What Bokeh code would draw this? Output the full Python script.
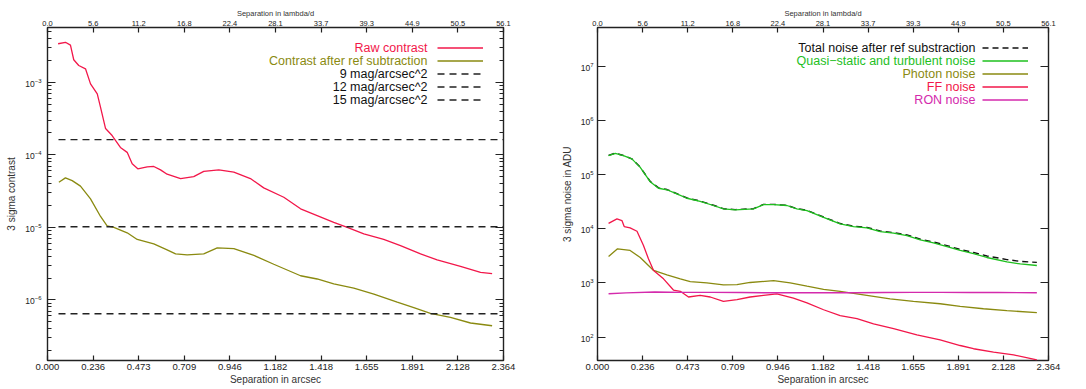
from bokeh.plotting import figure
from bokeh.models import (Range1d, LinearAxis, LogAxis, FixedTicker, Legend, LegendItem,
                          Label, PrintfTickFormatter, CustomJSTickFormatter)
from bokeh.layouts import row
from bokeh.embed import file_html
from bokeh.resources import INLINE

FONT = "Liberation Sans"

# ---------------- data: left panel (contrast) ----------------
raw_x = [0.055, 0.093, 0.119, 0.136, 0.162, 0.197, 0.223, 0.258, 0.275, 0.301, 0.335, 0.378,
         0.413, 0.439, 0.468, 0.517, 0.551, 0.586, 0.620, 0.690, 0.758, 0.810, 0.888, 0.966,
         1.052, 1.121, 1.225, 1.312, 1.398, 1.484, 1.554, 1.640, 1.743, 1.830, 1.934, 2.020,
         2.141, 2.245, 2.305]
raw_contrast = [3.39e-3, 3.55e-3, 3.24e-3, 2.04e-3, 1.70e-3, 1.53e-3, 9.5e-4, 6.9e-4, 4.5e-4,
                2.3e-4, 1.84e-4, 1.26e-4, 1.08e-4, 7.5e-5, 6.4e-5, 6.8e-5, 6.9e-5, 6.2e-5,
                5.4e-5, 4.7e-5, 5.0e-5, 5.9e-5, 6.2e-5, 5.75e-5, 4.7e-5, 3.5e-5, 2.6e-5,
                1.8e-5, 1.45e-5, 1.17e-5, 1.0e-5, 8.1e-6, 6.8e-6, 5.6e-6, 4.3e-6, 3.55e-6,
                2.9e-6, 2.4e-6, 2.3e-6]

sub_x = [0.059, 0.093, 0.128, 0.171, 0.223, 0.275, 0.309, 0.344, 0.413, 0.465, 0.551, 0.620,
         0.664, 0.724, 0.810, 0.880, 0.966, 1.070, 1.173, 1.312, 1.398, 1.484, 1.588, 1.692,
         1.813, 1.899, 1.985, 2.089, 2.193, 2.305]
sub_contrast = [4.17e-5, 4.8e-5, 4.4e-5, 3.7e-5, 2.47e-5, 1.41e-5, 1.05e-5, 1.0e-5, 8.4e-6,
                6.8e-6, 5.9e-6, 4.9e-6, 4.3e-6, 4.17e-6, 4.3e-6, 5.2e-6, 5.1e-6, 4.1e-6,
                3.1e-6, 2.15e-6, 1.94e-6, 1.66e-6, 1.45e-6, 1.2e-6, 9.3e-7, 7.8e-7, 6.5e-7,
                5.75e-7, 4.8e-7, 4.4e-7]

mag_labels = ["9 mag/arcsec^2", "12 mag/arcsec^2", "15 mag/arcsec^2"]
mag_levels = [1.62e-4, 1.02e-5, 6.45e-7]
mag_x = [0.057, 2.364]

# ---------------- data: right panel (noise in ADU) ----------------
qs_x = [0.058, 0.093, 0.136, 0.180, 0.224, 0.276, 0.320, 0.364, 0.416, 0.469, 0.538, 0.608,
        0.660, 0.722, 0.818, 0.870, 0.923, 0.993, 1.045, 1.098, 1.185, 1.272, 1.342, 1.412,
        1.482, 1.552, 1.622, 1.692, 1.761, 1.832, 1.901, 1.971, 2.041, 2.146, 2.216, 2.303]
qs_noise = [2.24e5, 2.47e5, 2.24e5, 1.95e5, 1.36e5, 7.4e4, 5.6e4, 5.25e4, 4.4e4, 3.66e4,
            3.22e4, 2.69e4, 2.33e4, 2.24e4, 2.33e4, 2.8e4, 2.8e4, 2.69e4, 2.33e4, 2.17e4,
            1.63e4, 1.23e4, 1.1e4, 1.04e4, 8.9e3, 8.3e3, 7.5e3, 6.25e3, 5.5e3, 4.7e3, 4.0e3,
            3.47e3, 2.95e3, 2.45e3, 2.24e3, 2.1e3]
total_noise = [2.26e5, 2.49e5, 2.25e5, 1.96e5, 1.37e5, 7.5e4, 5.7e4, 5.3e4, 4.45e4, 3.7e4,
               3.25e4, 2.72e4, 2.35e4, 2.26e4, 2.35e4, 2.82e4, 2.82e4, 2.71e4, 2.35e4, 2.19e4,
               1.65e4, 1.25e4, 1.12e4, 1.06e4, 9.1e3, 8.5e3, 7.7e3, 6.45e3, 5.7e3, 4.9e3,
               4.15e3, 3.65e3, 3.15e3, 2.7e3, 2.5e3, 2.4e3]

ph_x = [0.058, 0.105, 0.171, 0.224, 0.294, 0.364, 0.434, 0.486, 0.573, 0.660, 0.731, 0.800,
        0.923, 1.010, 1.098, 1.185, 1.272, 1.412, 1.534, 1.656, 1.796, 1.901, 2.023, 2.146,
        2.303]
photon_noise = [3.08e3, 4.27e3, 3.98e3, 2.95e3, 1.7e3, 1.41e3, 1.19e3, 1.06e3, 1.0e3, 9.2e2,
                9.3e2, 1.02e3, 1.1e3, 1.0e3, 8.7e2, 7.6e2, 7.0e2, 5.9e2, 5.1e2, 4.55e2,
                4.13e2, 3.68e2, 3.34e2, 3.09e2, 2.82e2]

ff_x = [0.058, 0.102, 0.128, 0.140, 0.171, 0.207, 0.241, 0.267, 0.294, 0.346, 0.398, 0.434,
        0.477, 0.538, 0.591, 0.660, 0.731, 0.800, 0.870, 0.940, 1.027, 1.098, 1.185, 1.272,
        1.360, 1.447, 1.552, 1.674, 1.796, 1.901, 1.971, 2.076, 2.181, 2.303]
ff_noise = [1.26e4, 1.52e4, 1.42e4, 1.1e4, 1.04e4, 9.0e3, 4.9e3, 2.8e3, 1.7e3, 1.19e3, 7.4e2,
            7.0e2, 5.5e2, 5.9e2, 5.5e2, 4.55e2, 4.9e2, 5.5e2, 5.9e2, 6.3e2, 5.25e2, 4.3e2,
            3.2e2, 2.5e2, 2.2e2, 1.76e2, 1.43e2, 1.1e2, 8.9e1, 7.0e1, 6.1e1, 5.3e1, 4.7e1,
            3.8e1]

ron_x = [0.058, 0.15, 0.30, 0.45, 0.60, 0.75, 0.90, 1.05, 1.20, 1.35, 1.50, 1.65, 1.80, 1.95,
         2.10, 2.303]
ron_noise = [630, 655, 680, 670, 670, 665, 660, 660, 660, 660, 665, 670, 670, 668, 665, 660]

# ---------------- axes ticks ----------------
arcsec_ticks = [0.0, 0.2364, 0.4728, 0.7092, 0.9456, 1.182, 1.4184, 1.6548, 1.8912, 2.1276, 2.364]
lam_ticks = [0.0, 5.612, 11.224, 16.836, 22.448, 28.06, 33.672, 39.284, 44.896, 50.508, 56.12]
left_y_ticks = [1e-6, 1e-5, 1e-4, 1e-3]
right_y_ticks = [1e2, 1e3, 1e4, 1e5, 1e6, 1e7]

RED = "#f2174a"
OLIVE = "#8a8a10"
GREEN = "#1ec01e"
MAGENTA = "#d42aac"
BLACK = "#111111"
AXC = "#222222"

H = 389
TOP = 27
BOTTOM = 29
FRAME_H = H - TOP - BOTTOM


def minor_log(lo_exp, hi_exp):
    out = []
    for e in range(lo_exp, hi_exp + 1):
        for m in range(2, 10):
            out.append(m * 10.0 ** e)
    return out


def make_fig(width, ylo, yhi, bl, br, yticks, minor, ylabel, lab_standoff, ax_standoff):
    p = figure(width=width, height=H, x_range=Range1d(0, 2.364), y_range=Range1d(ylo, yhi),
               y_axis_type="log", output_backend="svg", toolbar_location=None,
               min_border_left=bl, min_border_right=br, min_border_top=TOP,
               min_border_bottom=BOTTOM)
    p.xgrid.visible = False
    p.ygrid.visible = False
    p.outline_line_color = AXC
    p.outline_line_width = 1.4
    p.background_fill_color = "white"
    p.border_fill_color = "white"

    # bottom axis
    xa = p.xaxis[0]
    xa.ticker = FixedTicker(ticks=arcsec_ticks)
    xa.formatter = PrintfTickFormatter(format="%.3f")
    xa.axis_label = "Separation in arcsec"
    # top axis
    p.extra_x_ranges = {"lam": Range1d(0, 56.12)}
    ta = LinearAxis(x_range_name="lam", axis_label="Separation in lambda/d",
                    ticker=FixedTicker(ticks=lam_ticks),
                    formatter=PrintfTickFormatter(format="%.1f"))
    p.add_layout(ta, "above")
    for a in (xa, ta):
        a.major_tick_in = 5
        a.major_tick_out = 0
        a.minor_tick_line_color = None
        a.axis_line_color = None
        a.major_tick_line_color = AXC
        a.major_tick_line_width = 1.2
        a.axis_label_text_font_style = "normal"
        a.axis_label_text_font = FONT
        a.major_label_text_font = FONT
        a.axis_label_text_color = "#333333"
        a.major_label_text_color = "#222222"
    xa.major_label_text_font_size = "9.5px"
    xa.axis_label_text_font_size = "10px"
    xa.major_label_standoff = 3
    xa.axis_label_standoff = 1
    ta.major_label_text_font_size = "7.5px"
    ta.axis_label_text_font_size = "7.5px"
    ta.major_label_standoff = 2
    ta.axis_label_standoff = 0

    # left y axis
    ya = p.yaxis[0]
    ya.ticker = FixedTicker(ticks=yticks, minor_ticks=minor)
    ya.axis_label = ylabel
    # right y axis (ticks only)
    ra = LogAxis(ticker=FixedTicker(ticks=yticks, minor_ticks=minor),
                 formatter=CustomJSTickFormatter(code="return ''"))
    p.add_layout(ra, "right")
    for a in (ya, ra):
        a.major_tick_in = 8
        a.major_tick_out = 0
        a.minor_tick_in = 4
        a.minor_tick_out = 0
        a.axis_line_color = None
        a.major_tick_line_color = AXC
        a.minor_tick_line_color = AXC if minor else None
        a.major_tick_line_width = 1.2
        a.minor_tick_line_width = 1.0
        a.axis_label_text_font_style = "normal"
        a.axis_label_text_font = FONT
        a.major_label_text_font = FONT
        a.axis_label_text_color = "#333333"
        a.major_label_text_color = "#222222"
    ya.major_label_text_font_size = "8.5px"
    ya.axis_label_text_font_size = "10px"
    ya.major_label_standoff = lab_standoff
    ya.axis_label_standoff = ax_standoff
    ra.major_label_standoff = 0
    ra.major_label_text_font_size = "1px"
    return p


def add_key(p, entries, text_x, sample_x):
    # entries: (renderer, label text, text colour)
    row_h = 13
    first_center = 20
    items = []
    for i, (r, txt, col) in enumerate(entries):
        yc = FRAME_H - (first_center + i * row_h)
        p.add_layout(Label(x=text_x, y=yc, x_units="screen", y_units="screen", text=txt,
                           text_align="right", text_baseline="middle", text_color=col,
                           text_font=FONT, text_font_size="12.5px"))
        items.append(LegendItem(label=" ", renderers=[r]))
    bottom = FRAME_H - (first_center - row_h / 2) - len(entries) * row_h
    leg = Legend(items=items, location=(sample_x, bottom), padding=0, margin=0, spacing=0,
                 glyph_width=46, glyph_height=row_h, label_height=row_h, label_width=0,
                 label_standoff=0, label_text_font_size="1px", border_line_color=None,
                 background_fill_alpha=0)
    p.add_layout(leg, "center")


# ---------------- left figure ----------------
p1 = make_fig(548, 1.46e-7, 5.68e-3, 47, 45, left_y_ticks,
              minor_log(-7, -3), "3 sigma contrast", 6, 5)
r_raw = p1.line(raw_x, raw_contrast, line_color=RED, line_width=1.3)
r_sub = p1.line(sub_x, sub_contrast, line_color=OLIVE, line_width=1.3)
mag_r = []
for lev in mag_levels:
    mag_r.append(p1.line(mag_x, [lev, lev], line_color="#222222", line_width=1.4,
                         line_dash="7 5"))
add_key(p1, [(r_raw, "Raw contrast", RED),
             (r_sub, "Contrast after ref subtraction", OLIVE),
             (mag_r[0], mag_labels[0], BLACK),
             (mag_r[1], mag_labels[1], BLACK),
             (mag_r[2], mag_labels[2], BLACK)], 380, 390)

# ---------------- right figure ----------------
p2 = make_fig(538, 37, 5.2e7, 49, 38, right_y_ticks, [], "3 sigma noise in ADU", 4, 5)
r_tot = p2.line(qs_x, total_noise, line_color="#111111", line_width=1.4, line_dash="6 4")
r_qs = p2.line(qs_x, qs_noise, line_color=GREEN, line_width=1.3)
r_ph = p2.line(ph_x, photon_noise, line_color=OLIVE, line_width=1.3)
r_ff = p2.line(ff_x, ff_noise, line_color=RED, line_width=1.3)
r_ron = p2.line(ron_x, ron_noise, line_color=MAGENTA, line_width=1.4)
add_key(p2, [(r_tot, "Total noise after ref substraction", BLACK),
             (r_qs, "Quasi\u2212static and turbulent noise", GREEN),
             (r_ph, "Photon noise", OLIVE),
             (r_ff, "FF noise", RED),
             (r_ron, "RON noise", MAGENTA)], 378, 385)

layout = row(p1, p2)
open("out.html", "w").write(file_html(layout, INLINE))
